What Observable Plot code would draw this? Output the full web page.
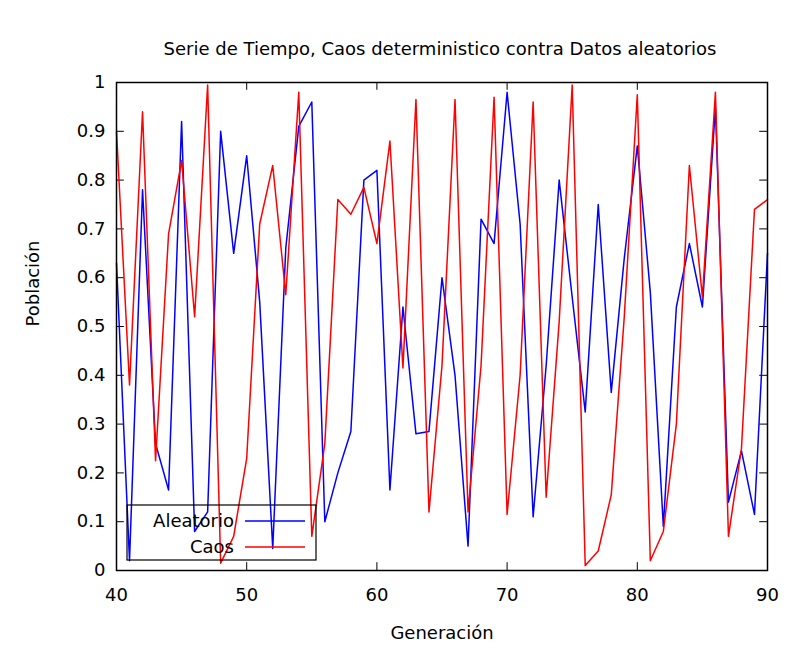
<!DOCTYPE html>
<html>
<head>
<meta charset="utf-8">
<script src="https://cdn.jsdelivr.net/npm/d3@7"></script>
<script src="https://cdn.jsdelivr.net/npm/@observablehq/plot@0.6"></script>
<style>
  body { margin: 0; background: #fff; }
  svg { font-family: "DejaVu Sans", sans-serif; }
</style>
</head>
<body>
<div id="chart"></div>
<script>
const generacion = d3.range(40, 91);
const aleatorio = [0.63, 0.02, 0.78, 0.26, 0.165, 0.92, 0.08, 0.12, 0.90, 0.65,
  0.85, 0.55, 0.045, 0.66, 0.91, 0.96, 0.10, 0.20, 0.285, 0.80,
  0.82, 0.165, 0.54, 0.28, 0.285, 0.60, 0.40, 0.05, 0.72, 0.67,
  0.98, 0.71, 0.11, 0.42, 0.80, 0.56, 0.325, 0.75, 0.365, 0.64,
  0.87, 0.57, 0.09, 0.54, 0.67, 0.54, 0.95, 0.14, 0.245, 0.115, 0.65];
const caos = [0.90, 0.38, 0.94, 0.225, 0.69, 0.84, 0.52, 0.995, 0.015, 0.07,
  0.23, 0.71, 0.83, 0.565, 0.98, 0.07, 0.26, 0.76, 0.73, 0.785,
  0.67, 0.88, 0.415, 0.965, 0.12, 0.42, 0.965, 0.12, 0.42, 0.97,
  0.115, 0.40, 0.96, 0.15, 0.51, 0.995, 0.01, 0.04, 0.155, 0.52,
  0.975, 0.02, 0.08, 0.30, 0.83, 0.56, 0.98, 0.07, 0.25, 0.74, 0.76];
const xTicks = [40, 50, 60, 70, 80, 90];
const yTicks = [0, 0.1, 0.2, 0.3, 0.4, 0.5, 0.6, 0.7, 0.8, 0.9, 1];

const serieA = generacion.map((g, i) => ({g, v: aleatorio[i]}));
const serieC = generacion.map((g, i) => ({g, v: caos[i]}));

const chart = Plot.plot({
  width: 811,
  height: 657,
  marginLeft: 116,
  marginRight: 44,
  marginTop: 82,
  marginBottom: 87,
  style: {fontSize: "18px", fontFamily: "DejaVu Sans, sans-serif", color: "#000"},
  x: {domain: [40, 90], label: null},
  y: {domain: [0, 1], label: null},
  marks: [
    Plot.axisX(xTicks, {tickSize: 0, tickPadding: 18, fontSize: 18}),
    Plot.axisY(yTicks, {tickSize: 0, tickPadding: 11, fontSize: 18, tickFormat: d => String(d)}),
    // inward ticks on all sides
    Plot.ruleX(xTicks, {x: d => d, y1: 0, y2: 0.016, stroke: "#000"}),
    Plot.ruleX(xTicks, {x: d => d, y1: 1, y2: 0.984, stroke: "#000"}),
    Plot.ruleY(yTicks, {y: d => d, x1: 40, x2: 40.6, stroke: "#000"}),
    Plot.ruleY(yTicks, {y: d => d, x1: 90, x2: 89.4, stroke: "#000"}),
    Plot.line(serieA, {x: "g", y: "v", stroke: "#0000ff", strokeWidth: 1.5}),
    Plot.line(serieC, {x: "g", y: "v", stroke: "#ff0000", strokeWidth: 1.5}),
    Plot.frame({stroke: "#000", strokeWidth: 1.5}),
    Plot.text(["Serie de Tiempo, Caos deterministico contra Datos aleatorios"],
      {frameAnchor: "top", dy: -40, dx: -2, fontSize: 18}),
    Plot.text(["Generación"], {frameAnchor: "bottom", dy: 68, fontSize: 18}),
    Plot.text(["Población"], {frameAnchor: "left", dx: -83, rotate: -90, fontSize: 18})
  ]
});

// legend box (gnuplot style)
const svg = d3.select(chart);
const lg = svg.append("g").attr("font-size", 18).attr("font-family", "DejaVu Sans, sans-serif");
lg.append("rect").attr("x", 127).attr("y", 505).attr("width", 189).attr("height", 55)
  .attr("fill", "none").attr("stroke", "#000").attr("stroke-width", 1.2);
[["Aleatorio", "#0000ff", 521], ["Caos", "#ff0000", 547]].forEach(([t, c, y]) => {
  lg.append("text").attr("x", 234).attr("y", y).attr("dy", "0.35em").attr("text-anchor", "end").text(t);
  lg.append("line").attr("x1", 245).attr("x2", 305).attr("y1", y).attr("y2", y)
    .attr("stroke", c).attr("stroke-width", 1.5);
});

d3.select("#chart").append(() => chart);
</script>
</body>
</html>
